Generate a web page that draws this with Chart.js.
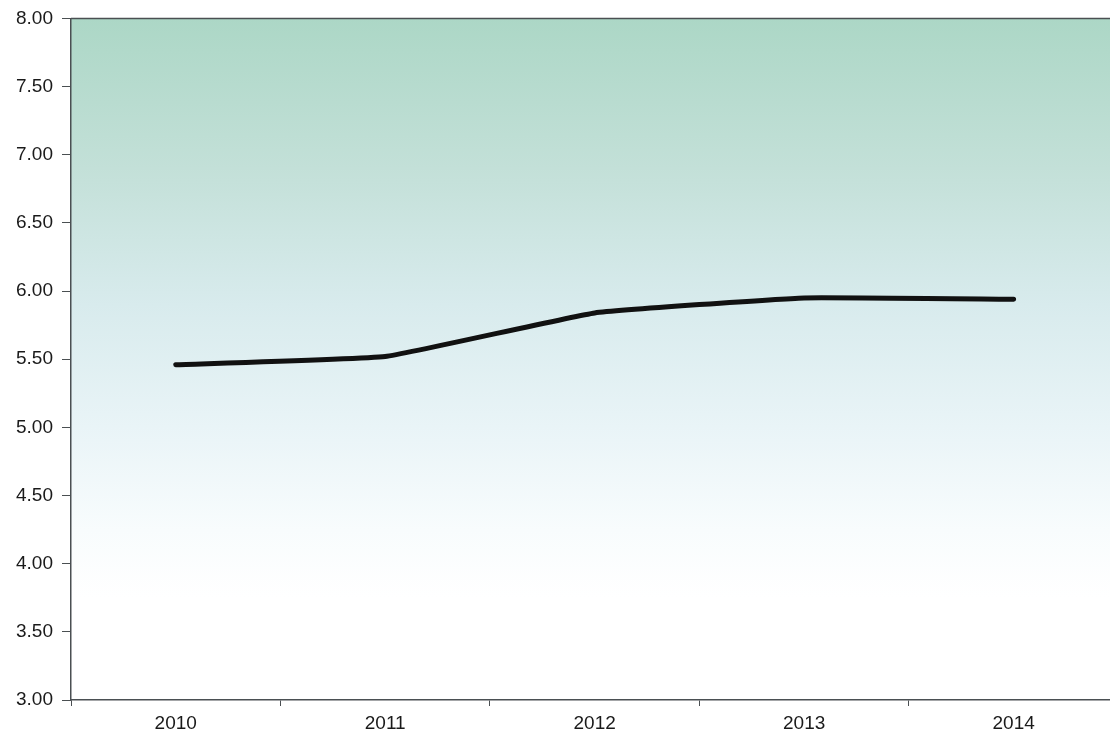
<!DOCTYPE html>
<html>
<head>
<meta charset="utf-8">
<script src="https://cdn.jsdelivr.net/npm/chart.js@4/dist/chart.umd.min.js"></script>
<style>
  html, body { margin: 0; padding: 0; background: #fff; }
  #wrap { width: 1110px; height: 734px; position: relative; }
</style>
</head>
<body>
<div id="wrap"><canvas id="chart"></canvas></div>
<script>
const years = [2010, 2011, 2012, 2013, 2014];
const values = [5.46, 5.52, 5.84, 5.95, 5.94];
const yTicks = [3.0, 3.5, 4.0, 4.5, 5.0, 5.5, 6.0, 6.5, 7.0, 7.5, 8.0];

const axisColor = '#4a4f52';
const font = { family: '"Liberation Sans", Arial, sans-serif', size: 19, lineHeight: 1 };

// soft green-to-white fill behind the plot, like the scanned original
const bgPlugin = {
    id: 'plotBg',
    beforeDraw(chart) {
        const { ctx, chartArea: a } = chart;
        const g = ctx.createLinearGradient(0, a.top, 0, a.bottom);
        g.addColorStop(0, '#acd7c6');
        g.addColorStop(0.22, '#c3e0d8');
        g.addColorStop(0.42, '#d8ebed');
        g.addColorStop(0.6, '#e9f4f7');
        g.addColorStop(0.75, '#f8fcfd');
        g.addColorStop(0.85, '#ffffff');
        g.addColorStop(1, '#ffffff');
        ctx.save();
        ctx.fillStyle = g;
        ctx.fillRect(a.left, a.top, a.right - a.left, a.bottom - a.top);
        ctx.strokeStyle = axisColor;
        ctx.lineWidth = 1.5;
        ctx.beginPath();
        ctx.moveTo(a.left, a.top);
        ctx.lineTo(a.right, a.top);
        ctx.stroke();
        ctx.restore();
    }
};

new Chart(document.getElementById('chart'), {
    type: 'line',
    data: {
        datasets: [{
            data: years.map((y, i) => ({ x: y, y: values[i] })),
            borderColor: '#111',
            borderWidth: 5,
            borderCapStyle: 'round',
            tension: 0.1,
            pointRadius: 0,
            fill: false
        }]
    },
    options: {
        responsive: true,
        maintainAspectRatio: false,
        animation: false,
        layout: { padding: { top: 17, right: 0, left: 0, bottom: 0 } },
        plugins: { legend: { display: false }, tooltip: { enabled: false } },
        scales: {
            x: {
                type: 'linear',
                min: 2009.5,
                max: 2014.46,
                afterBuildTicks: s => {
                    s.ticks = years.flatMap(y => [{ value: y - 0.5 }, { value: y }]);
                },
                afterFit: s => { s.height = 34; },
                ticks: {
                    autoSkip: false, maxRotation: 0, padding: 8,
                    color: '#1a1a1a', font: font,
                    callback: v => Number.isInteger(v) ? String(v) : ''
                },
                grid: {
                    drawOnChartArea: false,
                    tickLength: 6,
                    tickColor: c => (c.tick && !Number.isInteger(c.tick.value)) ? axisColor : 'transparent'
                },
                border: { color: axisColor, width: 1.5 }
            },
            y: {
                min: 3,
                max: 8,
                afterBuildTicks: s => { s.ticks = yTicks.map(v => ({ value: v })); },
                afterFit: s => { s.width = 71; },
                ticks: {
                    padding: 9, color: '#1a1a1a', font: font,
                    callback: v => v.toFixed(2)
                },
                grid: { drawOnChartArea: false, tickLength: 9, tickColor: axisColor },
                border: { color: axisColor, width: 1.5 }
            }
        }
    },
    plugins: [bgPlugin]
});
</script>
</body>
</html>
